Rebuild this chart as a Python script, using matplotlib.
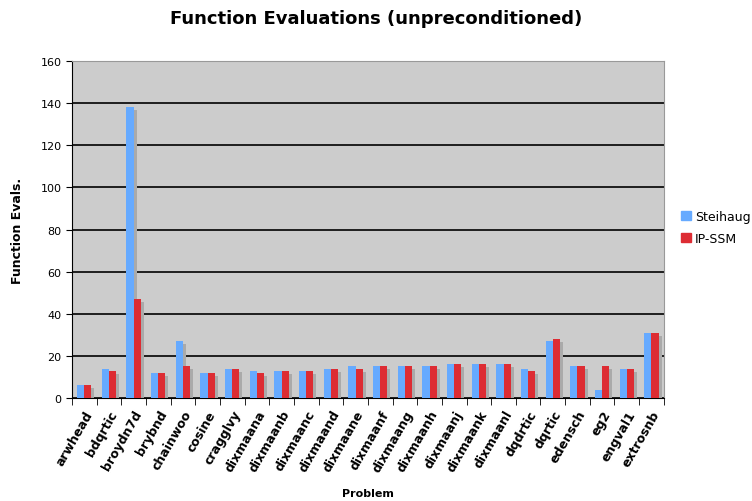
import numpy as np
import matplotlib
matplotlib.use("Agg")
from matplotlib import pyplot as plt
import matplotlib.transforms as mtransforms
from matplotlib.patches import Patch

# problem names and function evaluation counts
problems = ["arwhead", "bdqrtic", "broydn7d", "brybnd", "chainwoo", "cosine",
            "cragglvy", "dixmaana", "dixmaanb", "dixmaanc", "dixmaand", "dixmaane",
            "dixmaanf", "dixmaang", "dixmaanh", "dixmaanj", "dixmaank", "dixmaanl",
            "dqdrtic", "dqrtic", "edensch", "eg2", "engval1", "extrosnb"]
steihaug = [6, 14, 138, 12, 27, 12, 14, 13, 13, 13, 14, 15,
            15, 15, 15, 16, 16, 16, 14, 27, 15, 4, 14, 31]
ipssm = [6, 13, 47, 12, 15, 12, 14, 12, 13, 13, 14, 14,
         15, 15, 15, 16, 16, 16, 13, 28, 15, 15, 14, 31]

blue = "#66AAFF"
red = "#DD2C33"

plt.rcParams['font.family'] = ['DejaVu Sans']
fig = plt.figure(figsize=(7.52, 5.02), dpi=100)
ax = fig.add_axes([0.0957, 0.205, 0.787, 0.6715])
ax.set_facecolor("#CCCCCC")

x = np.arange(len(problems))
w = 0.29

# drop shadow behind the bars
shadow = ax.transData + mtransforms.ScaledTranslation(3 / 100, -3 / 100, fig.dpi_scale_trans)
ax.bar(x - w / 2, steihaug, w, color="#AAAAAA", transform=shadow, zorder=2)
ax.bar(x + w / 2, ipssm, w, color="#AAAAAA", transform=shadow, zorder=2)

ax.bar(x - w / 2, steihaug, w, color=blue, zorder=3, label="Steihaug")
ax.bar(x + w / 2, ipssm, w, color=red, zorder=4, label="IP-SSM")

ax.set_ylim(0, 160)
ax.set_xlim(-0.5, len(problems) - 0.5)
ax.set_yticks(range(0, 161, 20))
ax.yaxis.grid(True, color="black", linewidth=1.2, zorder=1)
ax.set_axisbelow(True)
ax.tick_params(axis="y", labelsize=8, length=4, direction="out")

ax.set_xticks(x)
ax.set_xticklabels(problems, rotation=60, ha="right", rotation_mode="anchor",
                   fontsize=9, fontweight="bold")
ax.tick_params(axis="x", which="major", length=0, pad=7)
ax.set_xticks(np.arange(-0.5, len(problems), 1), minor=True)
ax.tick_params(axis="x", which="minor", length=5, direction="out")

for s in ["top", "right"]:
    ax.spines[s].set_color("#999999")
ax.spines["left"].set_color("black")
ax.spines["bottom"].set_color("black")

ax.set_ylabel("Function Evals.", fontsize=9, fontweight="bold", labelpad=12)
ax.set_xlabel("Problem", fontsize=8, fontweight="bold", labelpad=10)
fig.suptitle("Function Evaluations (unpreconditioned)", fontsize=13,
             fontweight="bold", y=0.98)

handles = [Patch(color=blue), Patch(color=red)]
fig.legend(handles, ["Steihaug", "IP-SSM"], loc="center left",
           bbox_to_anchor=(0.899, 0.545), frameon=False, fontsize=9,
           handlelength=0.8, handleheight=0.8, handletextpad=0.3,
           labelspacing=0.7, borderaxespad=0)

fig.savefig("out.png", dpi=100)
